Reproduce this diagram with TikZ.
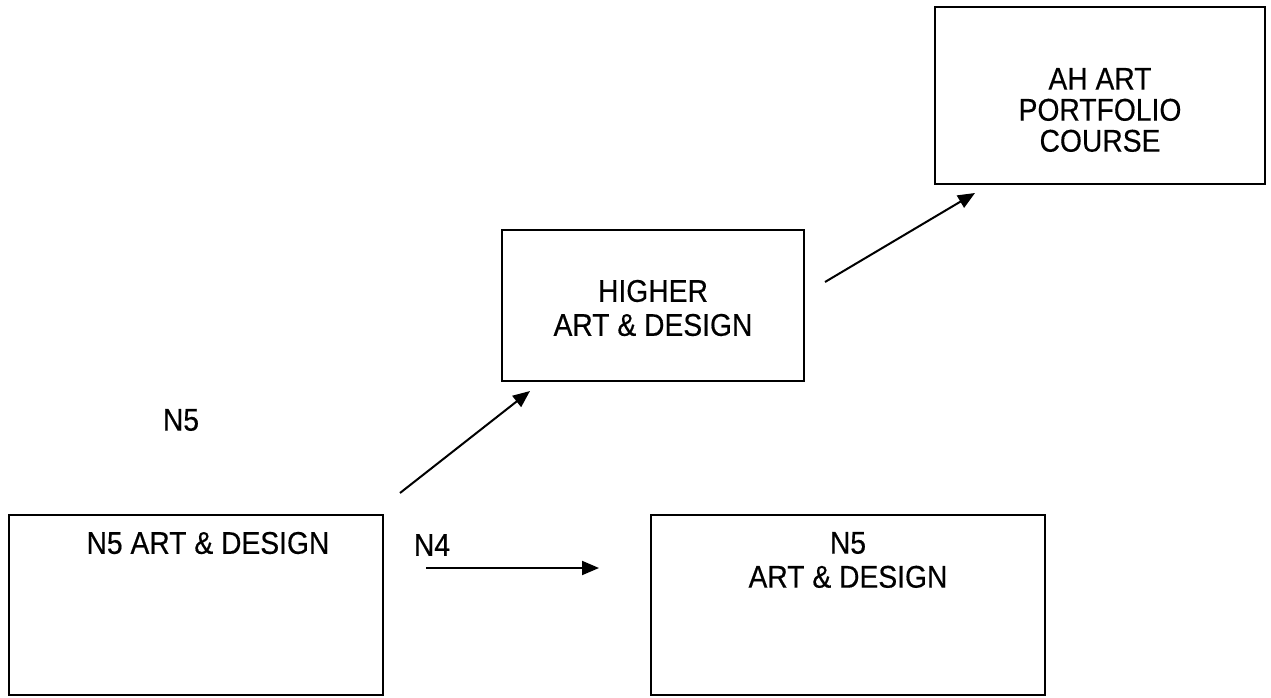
\documentclass[tikz,border=0pt]{standalone}
\usepackage{fontspec}
\setmainfont{Liberation Sans}[FakeStretch=0.9,FakeBold=0.4]
\usetikzlibrary{arrows.meta}
\tikzset{
  box/.style={draw=black, line width=2pt, rectangle, inner sep=0pt, outer sep=0pt},
  txt/.style={align=center, inner sep=0pt, font=\fontsize{31.4}{34}\selectfont},
  txtclose/.style={txt, font=\fontsize{31.4}{31}\selectfont},
  link/.style={draw=black, line width=2pt, -{Triangle[length=17pt,width=14pt]}}
}
\begin{document}
\begin{tikzpicture}[x=1pt,y=-1pt]
  \useasboundingbox (0,0) rectangle (1271,698);

  % course boxes
  \node[box, minimum width=374pt, minimum height=180pt] (n5left)  at (196,605) {};
  \node[box, minimum width=394pt, minimum height=180pt] (n5right) at (848,605) {};
  \node[box, minimum width=302pt, minimum height=151pt] (higher)  at (653,305.5) {};
  \node[box, minimum width=330pt, minimum height=177pt] (ah)      at (1100,95.5) {};

  % box titles
  \node[txt] (n5lefttxt)  at (208,543) {N5 ART \& DESIGN};
  \node[txt] (n5righttxt) at (848,560) {N5\\ART \& DESIGN};
  \node[txt] (highertxt)  at (653,308) {HIGHER\\ART \& DESIGN};
  \node[txtclose] (ahtxt) at (1100,110) {AH ART\\PORTFOLIO\\COURSE};

  % level labels
  \node[txt] (lblN5) at (181,420) {N5};
  \node[txt] (lblN4) at (432,545) {N4};

  % arrow end points
  \coordinate (a1s) at (400,493);
  \coordinate (a1e) at (530,391);
  \coordinate (a2s) at (825,282);
  \coordinate (a2e) at (975,193);
  \coordinate (a3s) at (426,568);
  \coordinate (a3e) at (599,568);

  \draw[link] (a1s) -- (a1e);
  \draw[link] (a2s) -- (a2e);
  \draw[link] (a3s) -- (a3e);
\end{tikzpicture}
\end{document}
